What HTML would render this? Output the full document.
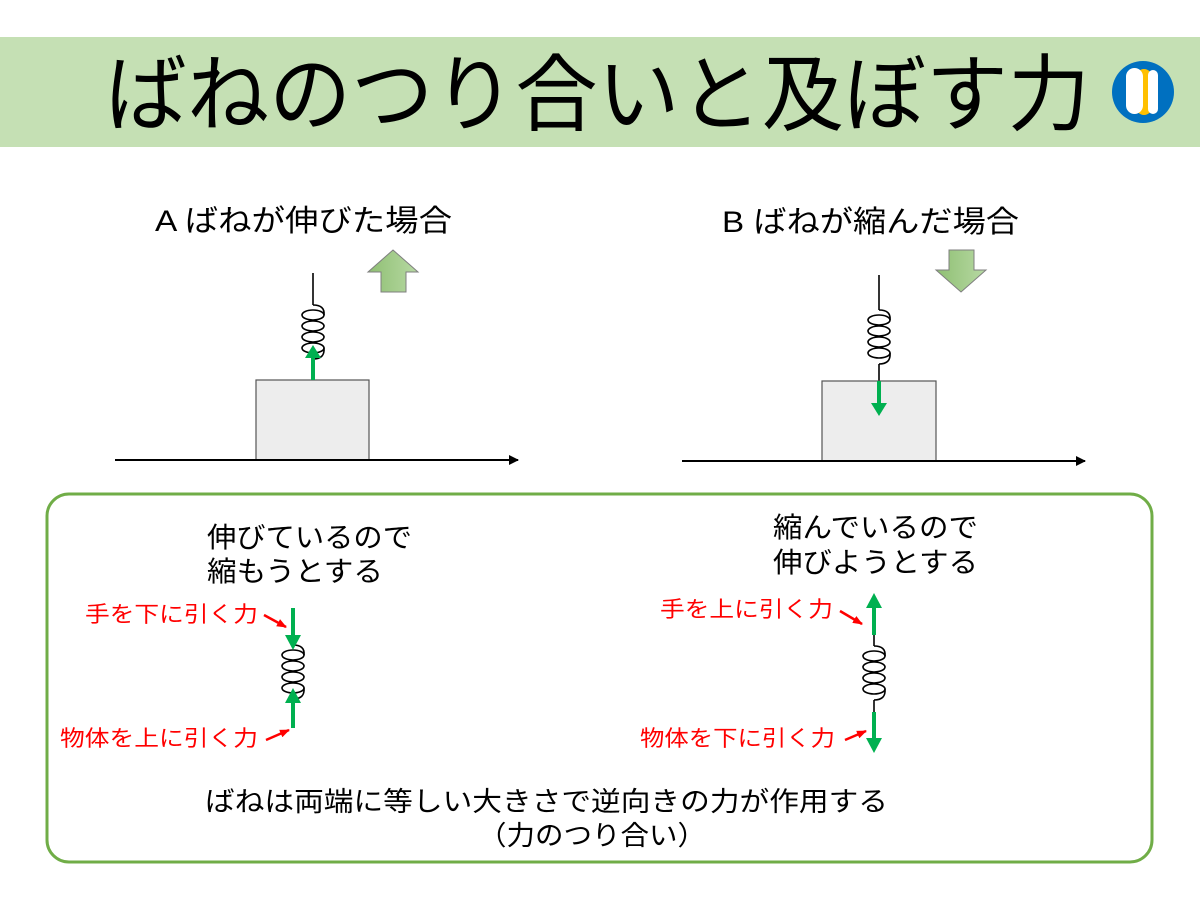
<!DOCTYPE html>
<html><head><meta charset="utf-8"><style>
html,body{margin:0;padding:0;background:#fff;width:1200px;height:900px;overflow:hidden}
svg text{font-family:"Liberation Sans","Noto Sans CJK JP",sans-serif}
</style></head><body>
<svg width="1200" height="900" viewBox="0 0 1200 900" xmlns="http://www.w3.org/2000/svg">
<defs>
<linearGradient id="g" x1="0" x2="1"><stop offset="0" stop-color="#8fbf73"/><stop offset="1" stop-color="#b7d9a3"/></linearGradient>
<marker id="ah" markerWidth="10" markerHeight="10" refX="9" refY="5" orient="auto" markerUnits="userSpaceOnUse"><path d="M0,0 L10,5 L0,10 z" fill="#000"/></marker>
<marker id="rh" markerWidth="10" markerHeight="10" refX="9" refY="5" orient="auto" markerUnits="userSpaceOnUse"><path d="M0,1 L10,5 L0,9 z" fill="#f00"/></marker>
<g id="coil" fill="none" stroke="#000" stroke-width="1.6">
<ellipse cx="0" cy="0" rx="11" ry="5"/><ellipse cx="0" cy="11" rx="11" ry="5"/><ellipse cx="0" cy="22" rx="11" ry="5"/><ellipse cx="0" cy="33" rx="11" ry="5"/>
<path d="M0,-10 Q12,-10 11,0 M11,33 Q12,44 0,44"/>
</g>
</defs>
<rect x="0" y="37" width="1200" height="110" fill="#c5e0b4"/>
<text x="105" y="124" font-size="84" textLength="985" lengthAdjust="spacingAndGlyphs">ばねのつり合いと及ぼす力</text>
<circle cx="1143" cy="92" r="31" fill="#0070c0"/>
<rect x="1136" y="69" width="16" height="46" rx="8" fill="#ffc000"/>
<rect x="1148" y="70" width="10" height="44" rx="5" fill="#fff"/>
<rect x="1126" y="68" width="17" height="46" rx="8.5" fill="#fff"/>

<text x="155" y="231" font-size="30" textLength="297" lengthAdjust="spacingAndGlyphs">A ばねが伸びた場合</text>
<text x="722" y="232" font-size="30" textLength="297" lengthAdjust="spacingAndGlyphs">B ばねが縮んだ場合</text>

<path d="M393,250 L418,272 L406,272 L406,292 L381,292 L381,272 L368,272 z" fill="url(#g)" stroke="#7f7f7f" stroke-width="1"/>
<path d="M961,292 L986,270 L974,270 L974,250 L949,250 L949,270 L936,270 z" fill="url(#g)" stroke="#7f7f7f" stroke-width="1"/>

<!-- A -->
<line x1="313" y1="273" x2="313" y2="305" stroke="#000" stroke-width="1.6"/>
<use href="#coil" x="313" y="315"/>
<rect x="256" y="380" width="113" height="80" fill="#ededed" stroke="#555" stroke-width="1.2"/>
<line x1="313" y1="380" x2="313" y2="357" stroke="#00b050" stroke-width="4"/>
<path d="M305,358 L321,358 L313,345 z" fill="#00b050"/>
<line x1="115" y1="460" x2="518" y2="460" stroke="#000" stroke-width="2" marker-end="url(#ah)"/>

<!-- B -->
<line x1="879" y1="275" x2="879" y2="310" stroke="#000" stroke-width="1.6"/>
<use href="#coil" x="879" y="320"/>
<line x1="879" y1="364" x2="879" y2="381" stroke="#000" stroke-width="1.6"/>
<rect x="822" y="381" width="114" height="80" fill="#ededed" stroke="#555" stroke-width="1.2"/>
<line x1="879" y1="381" x2="879" y2="404" stroke="#00b050" stroke-width="4"/>
<path d="M871,403 L887,403 L879,416 z" fill="#00b050"/>
<line x1="682" y1="461" x2="1085" y2="461" stroke="#000" stroke-width="2" marker-end="url(#ah)"/>

<rect x="47" y="494" width="1105" height="368" rx="22" fill="none" stroke="#70ad47" stroke-width="3"/>

<text x="207" y="547" font-size="28" textLength="205" lengthAdjust="spacingAndGlyphs">伸びているので</text>
<text x="207" y="581" font-size="28" textLength="176" lengthAdjust="spacingAndGlyphs">縮もうとする</text>
<text x="773" y="537" font-size="28" textLength="205" lengthAdjust="spacingAndGlyphs">縮んでいるので</text>
<text x="773" y="572" font-size="28" textLength="205" lengthAdjust="spacingAndGlyphs">伸びようとする</text>

<!-- left spring -->
<use href="#coil" x="293" y="655"/>
<line x1="293" y1="608" x2="293" y2="636" stroke="#00b050" stroke-width="4"/>
<path d="M285,635 L301,635 L293,650 z" fill="#00b050"/>
<line x1="293" y1="728" x2="293" y2="702" stroke="#00b050" stroke-width="4"/>
<path d="M285,703 L301,703 L293,688 z" fill="#00b050"/>
<text x="85" y="622" font-size="22" fill="#f00" textLength="173" lengthAdjust="spacingAndGlyphs">手を下に引く力</text>
<text x="60" y="746" font-size="22" fill="#f00" textLength="198" lengthAdjust="spacingAndGlyphs">物体を上に引く力</text>
<line x1="264" y1="615" x2="286" y2="627" stroke="#f00" stroke-width="2.5" marker-end="url(#rh)"/>
<line x1="266" y1="740" x2="289" y2="730" stroke="#f00" stroke-width="2.5" marker-end="url(#rh)"/>

<!-- right spring -->
<line x1="874" y1="635" x2="874" y2="646" stroke="#000" stroke-width="1.6"/>
<use href="#coil" x="874" y="656"/>
<line x1="874" y1="700" x2="874" y2="712" stroke="#000" stroke-width="1.6"/>
<line x1="874" y1="635" x2="874" y2="606" stroke="#00b050" stroke-width="4"/>
<path d="M866,608 L882,608 L874,593 z" fill="#00b050"/>
<line x1="874" y1="712" x2="874" y2="740" stroke="#00b050" stroke-width="4"/>
<path d="M866,738 L882,738 L874,753 z" fill="#00b050"/>
<text x="660" y="617" font-size="22" fill="#f00" textLength="173" lengthAdjust="spacingAndGlyphs">手を上に引く力</text>
<text x="640" y="746" font-size="22" fill="#f00" textLength="195" lengthAdjust="spacingAndGlyphs">物体を下に引く力</text>
<line x1="840" y1="611" x2="862" y2="624" stroke="#f00" stroke-width="2.5" marker-end="url(#rh)"/>
<line x1="845" y1="740" x2="866" y2="731" stroke="#f00" stroke-width="2.5" marker-end="url(#rh)"/>

<text x="205" y="811" font-size="27" textLength="683" lengthAdjust="spacingAndGlyphs">ばねは両端に等しい大きさで逆向きの力が作用する</text>
<text x="478" y="845" font-size="27" textLength="228" lengthAdjust="spacingAndGlyphs">（力のつり合い）</text>
</svg>
</body></html>
